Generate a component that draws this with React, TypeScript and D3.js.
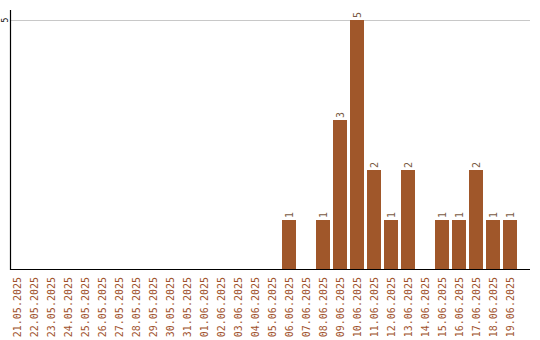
import React from "react";
import * as d3 from "d3";

const dates = [
  "21.05.2025", "22.05.2025", "23.05.2025", "24.05.2025", "25.05.2025", "26.05.2025",
  "27.05.2025", "28.05.2025", "29.05.2025", "30.05.2025", "31.05.2025", "01.06.2025",
  "02.06.2025", "03.06.2025", "04.06.2025", "05.06.2025", "06.06.2025", "07.06.2025",
  "08.06.2025", "09.06.2025", "10.06.2025", "11.06.2025", "12.06.2025", "13.06.2025",
  "14.06.2025", "15.06.2025", "16.06.2025", "17.06.2025", "18.06.2025", "19.06.2025",
];
const counts = [
  0, 0, 0, 0, 0, 0, 0, 0, 0, 0, 0, 0, 0, 0, 0, 0,
  1, 0, 1, 3, 5, 2, 1, 2, 0, 1, 1, 2, 1, 1,
];
const yTicks = [5];

const W = 540;
const H = 340;
const left = 10;
const right = 530;
const top = 10;
const base = 270;
const color = "#a0572a";
const labelColor = "#a0522d";
const font = "'DejaVu Sans Mono', monospace";

export default function App() {
  const x = d3.scaleBand<string>().domain(dates).range([8.5, 518.5]).paddingInner(3 / 17).paddingOuter(1.5 / 17);
  const y = d3.scaleLinear().domain([0, 5]).range([base, 20]);
  return (
    <svg width={W} height={H} style={{ position: "absolute", left: 0, top: 0 }}>
      <rect x={0} y={0} width={W} height={H} fill="#fff" />
      {yTicks.map((t) => (
        <g key={t}>
          <line x1={left} x2={right} y1={y(t) + 0.5} y2={y(t) + 0.5} stroke="#c8c8c8" strokeWidth={1} />
          <text
            transform={`translate(8,${y(t)}) rotate(-90)`}
            textAnchor="middle"
            fontFamily={font}
            fontSize={8}
            fill="#000"
          >
            {t}
          </text>
        </g>
      ))}
      {dates.map((d, i) =>
        counts[i] > 0 ? (
          <g key={d}>
            <rect x={x(d)!} y={y(counts[i])} width={x.bandwidth()} height={base - y(counts[i])} fill={color} />
            <text
              transform={`translate(${x(d)! + x.bandwidth() / 2},${y(counts[i]) - 2}) rotate(-90)`}
              dy="0.35em"
              textAnchor="start"
              fontFamily={font}
              fontSize={10}
              fill="#7a5a44"
            >
              {counts[i]}
            </text>
          </g>
        ) : null
      )}
      <line x1={left + 0.5} x2={left + 0.5} y1={top} y2={base} stroke="#000" strokeWidth={1.2} />
      <line x1={left} x2={right} y1={base - 0.5} y2={base - 0.5} stroke="#000" strokeWidth={1.2} />
      {dates.map((d) => (
        <text
          key={"l" + d}
          transform={`translate(${x(d)! + x.bandwidth() / 2},${base + 7}) rotate(-90)`}
          dy="0.35em"
          textAnchor="end"
          fontFamily={font}
          fontSize={10}
          fill={labelColor}
        >
          {d}
        </text>
      ))}
    </svg>
  );
}
